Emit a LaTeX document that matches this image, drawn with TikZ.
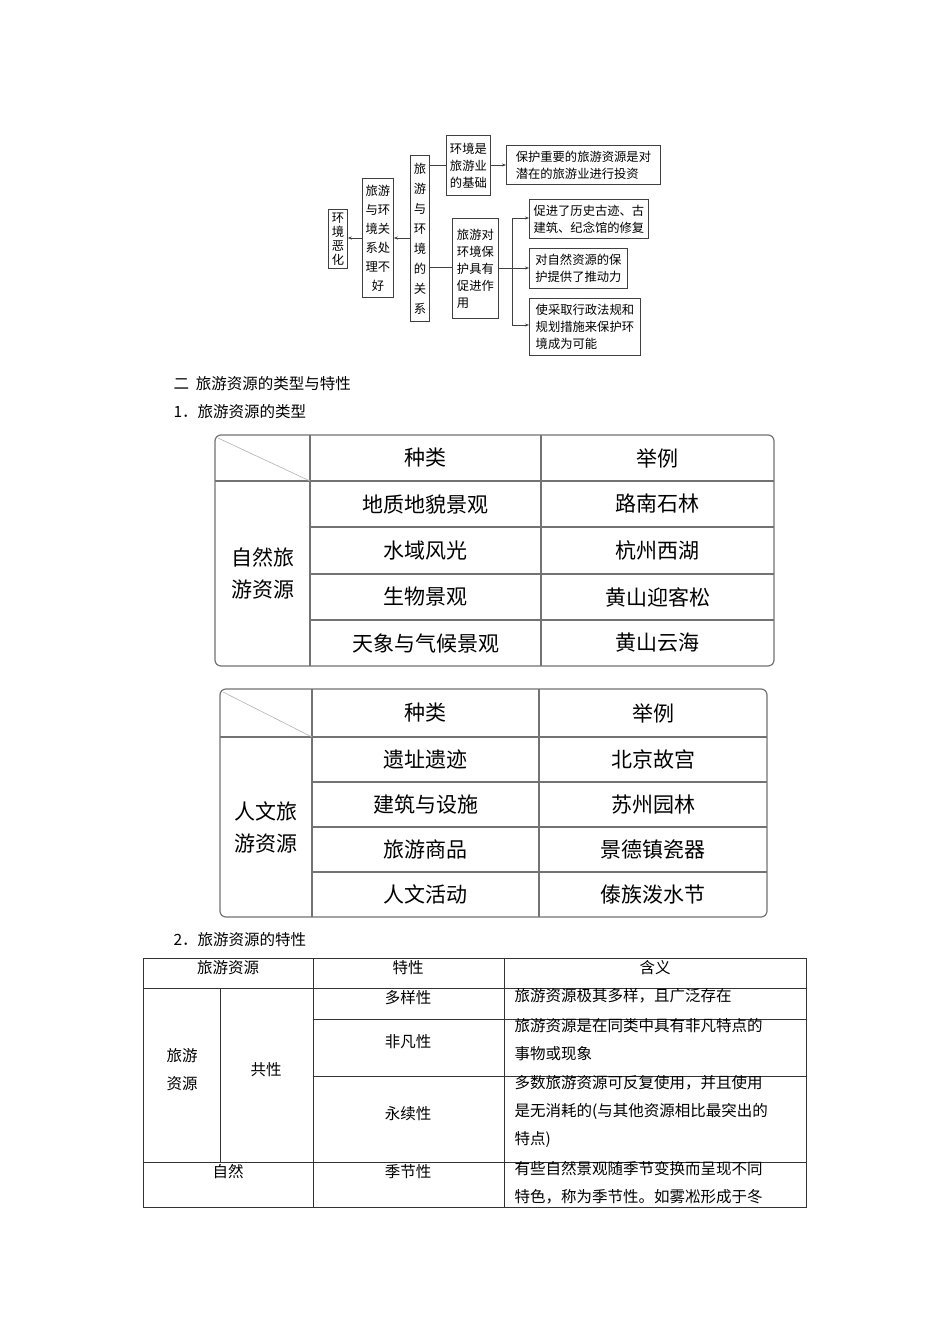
\documentclass[tikz,border=0pt]{standalone}
\usepackage{fontspec}
\setmainfont{Noto Sans CJK SC}
\usetikzlibrary{arrows.meta}
\begin{document}
\begin{tikzpicture}[x=1pt,y=-1pt,
  bx/.style={draw=black!75,line width=0.8pt,anchor=north west,inner sep=0pt,align=center,font=\fontsize{12.3}{17}\selectfont},
  ar/.style={draw=black!75,line width=0.7pt,-{Stealth[length=4pt,width=3pt]}},
  ln/.style={draw=black!75,line width=0.7pt},
  tl/.style={draw=black!55,line width=1.2pt},
  tt/.style={font=\fontsize{21}{32}\selectfont,align=center},
  bt/.style={font=\fontsize{15.5}{20}\selectfont},
  hd/.style={font=\fontsize{15.5}{20}\selectfont,anchor=west}]
\useasboundingbox[fill=white] (0,0) rectangle (950,1344);
% top diagram
\node[bx,minimum width=19pt,minimum height=59pt,font=\fontsize{12.3}{14}\selectfont] (a) at (328,209) {环\\境\\恶\\化};
\node[bx,minimum width=31pt,minimum height=119pt,font=\fontsize{12.3}{19}\selectfont] (b) at (362,178) {旅游\\与环\\境关\\系处\\理不\\好};
\node[bx,minimum width=19pt,minimum height=166pt,font=\fontsize{12.3}{20}\selectfont] (c) at (410,155) {旅\\游\\与\\环\\境\\的\\关\\系};
\node[bx,minimum width=44pt,minimum height=60pt] (d) at (446,135) {环境是\\旅游业\\的基础};
\node[bx,minimum width=154pt,minimum height=39pt,align=left] (e) at (506,145) {保护重要的旅游资源是对\\潜在的旅游业进行投资};
\node[bx,minimum width=46pt,minimum height=100pt,align=left] (f) at (452,218) {旅游对\\环境保\\护具有\\促进作\\用};
\node[bx,minimum width=119pt,minimum height=39pt,align=left] (g) at (529,199) {促进了历史古迹、古\\建筑、纪念馆的修复};
\node[bx,minimum width=98pt,minimum height=40pt,align=left] (h) at (529,248) {对自然资源的保\\护提供了推动力};
\node[bx,minimum width=111pt,minimum height=57pt,align=left] (i) at (529,298) {使采取行政法规和\\规划措施来保护环\\境成为可能};
\draw[ar] (c.west |- 0,238) -- (b.east |- 0,238);
\draw[ar] (b.west |- 0,238) -- (a.east |- 0,238);
\draw[ln] (c.east |- 0,165) -- (d.west |- 0,165);
\draw[ln] (c.east |- 0,267) -- (f.west |- 0,267);
\draw[ar] (d.east |- 0,165) -- (e.west |- 0,165);
\coordinate (br) at (512,268);
\draw[ln] (f.east |- br) -- (br);
\draw[ln] (512,218) -- (512,325);
\draw[ar] (512,218) -- (g.west |- 0,218);
\draw[ar] (br) -- (h.west |- br);
\draw[ar] (512,325) -- (i.west |- 0,325);
% headings
\node[hd] (h1) at (170,384) {二\ \ 旅游资源的类型与特性};
\node[hd] (h2) at (170,412) {1．旅游资源的类型};
% table 1
\draw[tl,rounded corners=6pt] (215,435) rectangle (774,666);
\draw[tl] (310,435) -- (310,666) (541,435) -- (541,666);
\draw[tl] (215,481) -- (774,481);
\foreach \y in {527,574,620} \draw[tl] (310,\y) -- (774,\y);
\draw[draw=black!30,line width=0.6pt] (218,438) -- (310,481);
\node[tt] (t1a) at (425.5,458) {种类};
\node[tt] (t1b) at (657.5,458) {举例};
\node[tt] (t1c) at (262.5,573.5) {自然旅\\游资源};
\node[tt] (r1a) at (425.5,504) {地质地貌景观};
\node[tt] (r1b) at (657.5,504) {路南石林};
\node[tt] (r2a) at (425.5,550.5) {水域风光};
\node[tt] (r2b) at (657.5,550.5) {杭州西湖};
\node[tt] (r3a) at (425.5,597) {生物景观};
\node[tt] (r3b) at (657.5,597) {黄山迎客松};
\node[tt] (r4a) at (425.5,643) {天象与气候景观};
\node[tt] (r4b) at (657.5,643) {黄山云海};
% table 2
\draw[tl,rounded corners=6pt] (220,689) rectangle (767,917);
\draw[tl] (312,689) -- (312,917) (539,689) -- (539,917);
\draw[tl] (220,737) -- (767,737);
\foreach \y in {782,827,872} \draw[tl] (312,\y) -- (767,\y);
\draw[draw=black!30,line width=0.6pt] (223,692) -- (312,737);
\node[tt] (t2a) at (425.5,713) {种类};
\node[tt] (t2b) at (653,713) {举例};
\node[tt] (t2c) at (266,827) {人文旅\\游资源};
\node[tt] (s1a) at (425.5,759.5) {遗址遗迹};
\node[tt] (s1b) at (653,759.5) {北京故宫};
\node[tt] (s2a) at (425.5,804.5) {建筑与设施};
\node[tt] (s2b) at (653,804.5) {苏州园林};
\node[tt] (s3a) at (425.5,849.5) {旅游商品};
\node[tt] (s3b) at (653,849.5) {景德镇瓷器};
\node[tt] (s4a) at (425.5,894.5) {人文活动};
\node[tt] (s4b) at (653,894.5) {傣族泼水节};
% table 3
\node[hd] (h3) at (170,940) {2．旅游资源的特性};
\begin{scope}[every path/.style={draw=black!80,line width=0.8pt}]
\draw (143,958) rectangle (806,1207);
\draw (313,958) -- (313,1207) (504,958) -- (504,1207);
\draw (220,988) -- (220,1162);
\draw (143,988) -- (806,988) (313,1019) -- (806,1019) (313,1076) -- (806,1076) (143,1162) -- (806,1162);
\end{scope}
\node[bt] (u1) at (228,968) {旅游资源};
\node[bt] (u2) at (408,968) {特性};
\node[bt] (u3) at (655,968) {含义};
\node[bt,align=center,font=\fontsize{15.5}{28}\selectfont] (u4) at (182,1070) {旅游\\资源};
\node[bt] (u5) at (266,1070) {共性};
\node[bt] (u6) at (408,998) {多样性};
\node[bt] (u7) at (408,1042) {非凡性};
\node[bt] (u8) at (408,1114) {永续性};
\node[bt] (u9) at (228,1172) {自然};
\node[bt] (u10) at (408,1172) {季节性};
\node[bt,anchor=north west,align=left,font=\fontsize{15.5}{28}\selectfont] (v1) at (511,985) {旅游资源极其多样，且广泛存在};
\node[bt,anchor=north west,align=left,font=\fontsize{15.5}{28}\selectfont] (v2) at (511,1015) {旅游资源是在同类中具有非凡特点的\\事物或现象};
\node[bt,anchor=north west,align=left,font=\fontsize{15.5}{28}\selectfont] (v3) at (511,1072) {多数旅游资源可反复使用，并且使用\\是无消耗的(与其他资源相比最突出的\\特点)};
\node[bt,anchor=north west,align=left,font=\fontsize{15.5}{28}\selectfont] (v4) at (511,1158) {有些自然景观随季节变换而呈现不同\\特色，称为季节性。如雾凇形成于冬};
\end{tikzpicture}
\end{document}
